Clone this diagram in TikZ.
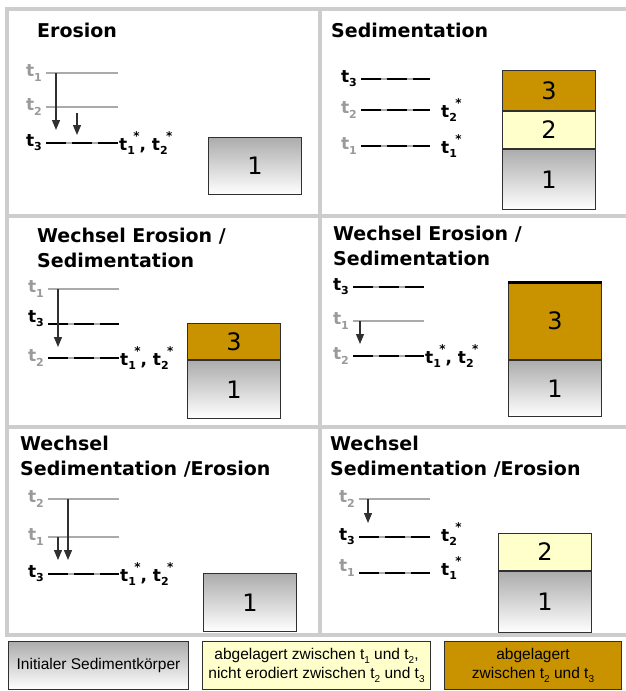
\documentclass[tikz,border=0pt]{standalone}
\usepackage{fontspec}
\setmainfont{DejaVu Sans}
\newfontfamily\legendfont{Liberation Sans}
\usetikzlibrary{arrows.meta,positioning}
\definecolor{panelgray}{HTML}{CDCDCD}
\definecolor{oldgray}{HTML}{9A9A9A}
\definecolor{linegray}{HTML}{AAAAAA}
\definecolor{layerbrown}{HTML}{C99300}
\definecolor{layercream}{HTML}{FFFFCC}
\definecolor{inkdark}{HTML}{303030}
\newcommand{\tsub}[1]{t\raisebox{-.45ex}{\fontsize{11}{11}\selectfont#1}}
\newcommand{\tstar}[1]{t\raisebox{-.45ex}{\fontsize{11}{11}\selectfont#1}\kern-.1em\raisebox{1.05ex}{\fontsize{12}{12}\selectfont*}}
\newcommand{\lsub}[1]{t\raisebox{-.45ex}{\fontsize{10}{10}\selectfont#1}}
\tikzset{
  panelline/.style={draw=panelgray,line width=4pt},
  paneltitle/.style={anchor=base west,inner sep=0pt,align=left,font=\fontsize{19}{25}\selectfont\bfseries},
  oldlab/.style={inner sep=0pt,text=oldgray,font=\fontsize{17}{17}\selectfont\bfseries},
  nowlab/.style={oldlab,text=black},
  oldline/.style={draw=linegray,line width=2pt},
  dashline/.style={draw=linegray,line width=2pt,postaction={draw=black,dash pattern=on 20pt off 6pt}},
  droparrow/.style={-{Triangle[length=10pt,width=8pt]},draw=inkdark,line width=1.2pt},
  layer/.style={draw=inkdark,line width=1pt,minimum width=93pt,inner sep=0pt,font=\fontsize{24}{24}\selectfont},
  baselayer/.style={layer,top color=gray!65,bottom color=white},
  legendbox/.style={draw=inkdark,line width=1pt,minimum height=48pt,inner sep=0pt,align=center,font=\legendfont\fontsize{15.5}{19.5}\selectfont},
}
\begin{document}
\begin{tikzpicture}[x=1pt,y=-1pt]
  \useasboundingbox (0,0) rectangle (626,691);
  % panel frame
  \foreach \y in {9,216,427,635} \draw[panelline] (5,\y) -- (626,\y);
  \foreach \x in {7,320} \draw[panelline] (\x,9) -- (\x,635);

  % Erosion
  \node[paneltitle] (ero-title) at (37,37) {Erosion};
  \coordinate (e1a) at (46,73); \coordinate (e1b) at (118,73);
  \coordinate (e2a) at (46,107); \coordinate (e2b) at (118,107);
  \coordinate (e3a) at (46,143); \coordinate (e3b) at (118,143);
  \draw[oldline] (e1a) -- (e1b); \draw[oldline] (e2a) -- (e2b); \draw[dashline] (e3a) -- (e3b);
  \node[oldlab,left=4pt of e1a] (ero-t1) {\tsub1};
  \node[oldlab,left=4pt of e2a] (ero-t2) {\tsub2};
  \node[nowlab,left=4pt of e3a] (ero-t3) {\tsub3};
  \node[nowlab,right=1pt of e3b] (ero-star) {\tstar1, \tstar2};
  \coordinate (ea1) at (56,73); \coordinate (ea1e) at (56,130);
  \coordinate (ea2) at (77,113); \coordinate (ea2e) at (77,135);
  \draw[droparrow] (ea1) -- (ea1e); \draw[droparrow] (ea2) -- (ea2e);
  \node[baselayer,minimum height=57pt,anchor=north west] (ero-l1) at (208,137) {1};

  % Sedimentation
  \node[paneltitle] (sed-title) at (331,37) {Sedimentation};
  \coordinate (s3a) at (361,79); \coordinate (s3b) at (430,79);
  \coordinate (s2a) at (361,110); \coordinate (s2b) at (430,110);
  \coordinate (s1a) at (361,146); \coordinate (s1b) at (430,146);
  \draw[dashline] (s3a) -- (s3b); \draw[dashline] (s2a) -- (s2b); \draw[dashline] (s1a) -- (s1b);
  \node[nowlab,left=4pt of s3a] (sed-t3) {\tsub3};
  \node[oldlab,left=4pt of s2a] (sed-t2) {\tsub2};
  \node[oldlab,left=4pt of s1a] (sed-t1) {\tsub1};
  \node[nowlab,right=11pt of s2b] (sed-star2) {\tstar2};
  \node[nowlab,right=11pt of s1b] (sed-star1) {\tstar1};
  \node[layer,fill=layerbrown,minimum height=40pt,anchor=north west] (sed-l3) at (502,70) {3};
  \node[layer,fill=layercream,minimum height=37pt,below=0pt of sed-l3] (sed-l2) {2};
  \node[baselayer,minimum height=60pt,below=0pt of sed-l2] (sed-l1) {1};

  % Wechsel Erosion / Sedimentation
  \node[paneltitle] (es-title) at (37,267) {Wechsel Erosion /\\Sedimentation};
  \coordinate (a1a) at (48,289); \coordinate (a1b) at (119,289);
  \coordinate (a3a) at (48,324); \coordinate (a3b) at (119,324);
  \coordinate (a2a) at (48,358); \coordinate (a2b) at (119,358);
  \draw[oldline] (a1a) -- (a1b); \draw[dashline] (a3a) -- (a3b); \draw[dashline] (a2a) -- (a2b);
  \node[oldlab,left=4pt of a1a] (es-t1) {\tsub1};
  \node[nowlab,left=4pt of a3a,yshift=5pt] (es-t3) {\tsub3};
  \node[oldlab,left=4pt of a2a] (es-t2) {\tsub2};
  \node[nowlab,right=1pt of a2b] (es-star) {\tstar1, \tstar2};
  \coordinate (aa1) at (58,289); \coordinate (aa1e) at (58,347);
  \draw[droparrow] (aa1) -- (aa1e);
  \node[layer,fill=layerbrown,minimum height=36pt,anchor=north west] (es-l3) at (187,323) {3};
  \node[baselayer,minimum height=58pt,below=0pt of es-l3] (es-l1) {1};

  \node[paneltitle] (es2-title) at (333,265) {Wechsel Erosion /\\Sedimentation};
  \coordinate (b3a) at (353,287); \coordinate (b3b) at (424,287);
  \coordinate (b1a) at (353,321); \coordinate (b1b) at (424,321);
  \coordinate (b2a) at (353,356); \coordinate (b2b) at (424,356);
  \draw[dashline] (b3a) -- (b3b); \draw[oldline] (b1a) -- (b1b); \draw[dashline] (b2a) -- (b2b);
  \node[nowlab,left=4pt of b3a] (es2-t3) {\tsub3};
  \node[oldlab,left=4pt of b1a] (es2-t1) {\tsub1};
  \node[oldlab,left=4pt of b2a] (es2-t2) {\tsub2};
  \node[nowlab,right=1pt of b2b] (es2-star) {\tstar1, \tstar2};
  \coordinate (ba1) at (360,321); \coordinate (ba1e) at (360,344);
  \draw[droparrow] (ba1) -- (ba1e);
  \node[layer,fill=layerbrown,minimum height=77pt,anchor=north west] (es2-l3) at (508,282) {3};
  \draw[line width=3pt] (es2-l3.north west) -- (es2-l3.north east);
  \node[baselayer,minimum height=56pt,below=0pt of es2-l3] (es2-l1) {1};

  % Wechsel Sedimentation / Erosion
  \node[paneltitle] (se-title) at (20,475) {Wechsel\\Sedimentation /Erosion};
  \coordinate (c2a) at (48,499); \coordinate (c2b) at (119,499);
  \coordinate (c1a) at (48,537); \coordinate (c1b) at (119,537);
  \coordinate (c3a) at (48,574); \coordinate (c3b) at (119,574);
  \draw[oldline] (c2a) -- (c2b); \draw[oldline] (c1a) -- (c1b); \draw[dashline] (c3a) -- (c3b);
  \node[oldlab,left=4pt of c2a] (se-t2) {\tsub2};
  \node[oldlab,left=4pt of c1a] (se-t1) {\tsub1};
  \node[nowlab,left=4pt of c3a] (se-t3) {\tsub3};
  \node[nowlab,right=1pt of c3b] (se-star) {\tstar1, \tstar2};
  \coordinate (ca2) at (68,499); \coordinate (ca2e) at (68,560);
  \coordinate (ca1) at (58,537); \coordinate (ca1e) at (58,560);
  \draw[droparrow] (ca2) -- (ca2e); \draw[droparrow] (ca1) -- (ca1e);
  \node[baselayer,minimum height=58pt,anchor=north west] (se-l1) at (203,573) {1};

  \node[paneltitle] (se2-title) at (330,475) {Wechsel\\Sedimentation /Erosion};
  \coordinate (d2a) at (359,499); \coordinate (d2b) at (430,499);
  \coordinate (d3a) at (359,537); \coordinate (d3b) at (430,537);
  \coordinate (d1a) at (359,573); \coordinate (d1b) at (430,573);
  \draw[oldline] (d2a) -- (d2b); \draw[dashline] (d3a) -- (d3b); \draw[dashline] (d1a) -- (d1b);
  \node[oldlab,left=4pt of d2a] (se2-t2) {\tsub2};
  \node[nowlab,left=4pt of d3a] (se2-t3) {\tsub3};
  \node[oldlab,left=4pt of d1a,yshift=5pt] (se2-t1) {\tsub1};
  \node[nowlab,right=11pt of d3b,yshift=3pt] (se2-star2) {\tstar2};
  \node[nowlab,right=11pt of d1b,yshift=5pt] (se2-star1) {\tstar1};
  \coordinate (da2) at (368,499); \coordinate (da2e) at (368,523);
  \draw[droparrow] (da2) -- (da2e);
  \node[layer,fill=layercream,minimum height=37pt,anchor=north west] (se2-l2) at (498,533) {2};
  \node[baselayer,minimum height=61pt,below=0pt of se2-l2] (se2-l1) {1};

  % legend
  \node[legendbox,top color=gray!65,bottom color=white,minimum width=180pt,anchor=north west] (leg-init) at (8,641) {Initialer Sedimentkörper};
  \node[legendbox,fill=layercream,minimum width=228pt,anchor=north west] (leg-kept) at (202,641) {abgelagert zwischen \lsub1 und \lsub2,\\nicht erodiert zwischen \lsub2 und \lsub3};
  \node[legendbox,fill=layerbrown,minimum width=177pt,anchor=north west] (leg-new) at (444,641) {abgelagert\\zwischen \lsub2 und \lsub3};
\end{tikzpicture}
\end{document}
